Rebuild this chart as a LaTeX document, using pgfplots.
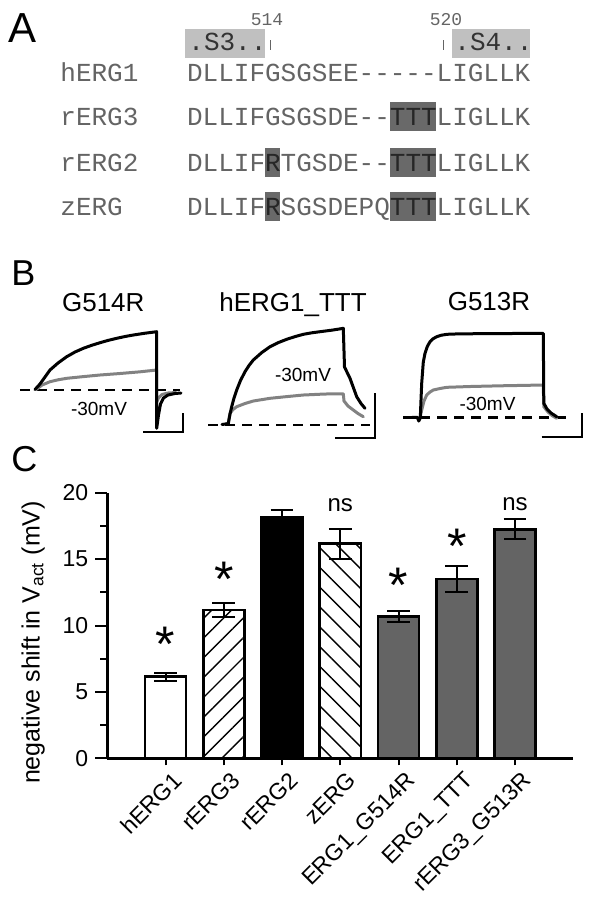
\documentclass[border=0pt]{standalone}
\usepackage{fontspec}
\setmainfont{Liberation Sans}
\setmonofont{Liberation Mono}
\usepackage{pgfplots}
\pgfplotsset{compat=1.18}
\usetikzlibrary{patterns.meta}

\definecolor{boxlight}{RGB}{192,192,192}
\definecolor{boxdark}{RGB}{105,105,105}
\definecolor{seqgray}{RGB}{100,100,100}
\definecolor{tracegray}{RGB}{130,130,130}
\definecolor{bardark}{RGB}{100,100,100}

\newcommand{\seqfont}{\ttfamily\fontsize{13}{13}\selectfont}
\newcommand{\hl}[1]{\textcolor{black!85}{#1}}

\pgfplotsset{
  bars/.style={ybar, bar width=0.706, bar shift=0pt, draw=black, line width=1.3pt,
    /pgfplots/error bars/y dir=both, /pgfplots/error bars/y explicit,
    /pgfplots/error bars/error bar style={line width=1pt, black},
    /pgfplots/error bars/error mark options={rotate=90, mark size=5.7pt, line width=1pt, black}},
  trace/.style={line width=1.5pt, line join=round, line cap=round},
}

\begin{document}
\begin{tikzpicture}[x=0.5pt, y=-0.5pt]
\useasboundingbox (0,0) rectangle (600,901);

% ---- panels A and B, drawn on a pixel canvas
\begin{axis}[at={(0pt,0pt)}, anchor=north west, x=0.5pt, y=0.5pt, y dir=reverse,
  xmin=0, xmax=600, ymin=0, ymax=450, hide axis, clip=false]

% panel letters
\node[anchor=base west, inner sep=0pt, font=\fontsize{21}{21}\selectfont] at (8,42) {A};
\node[anchor=base west, inner sep=0pt, font=\fontsize{18}{18}\selectfont] at (11,285) {B};
\node[anchor=base west, inner sep=0pt, font=\fontsize{18}{18}\selectfont] at (11,471.7) {C};

% A: segment boxes
\fill[boxlight] (185,29.3) rectangle (265,58.3);
\fill[boxlight] (451.7,29.3) rectangle (530,58.3);
\node[anchor=base west, inner sep=0pt, font=\seqfont, text=black!80] at (188,50) {.S3..};
\node[anchor=base west, inner sep=0pt, font=\seqfont, text=black!80] at (454,50) {.S4..};
\draw[seqgray, line width=0.5pt] (270,40) -- (270,50);
\draw[seqgray, line width=0.5pt] (443.3,40) -- (443.3,50);
\node[anchor=base, inner sep=0pt, font=\ttfamily\fontsize{9}{9}\selectfont, text=seqgray] at (267,25) {514};
\node[anchor=base, inner sep=0pt, font=\ttfamily\fontsize{9}{9}\selectfont, text=seqgray] at (446,25) {520};

% A: highlighted residues
\fill[boxdark] (389.5,102.2) rectangle (436.3,131.2);
\fill[boxdark] (389.5,147.5) rectangle (436.3,176.5);
\fill[boxdark] (389.5,191.5) rectangle (436.3,220.5);
\fill[boxdark] (264.7,147.5) rectangle (280.3,176.5);
\fill[boxdark] (264.7,191.5) rectangle (280.3,220.5);

% A: alignment rows
\node[anchor=base west, inner sep=0pt, font=\seqfont, text=seqgray] at (60,81.5) {hERG1};
\node[anchor=base west, inner sep=0pt, font=\seqfont, text=seqgray] at (60,125.7) {rERG3};
\node[anchor=base west, inner sep=0pt, font=\seqfont, text=seqgray] at (60,171) {rERG2};
\node[anchor=base west, inner sep=0pt, font=\seqfont, text=seqgray] at (60,215) {zERG};
\node[anchor=base west, inner sep=0pt, font=\seqfont, text=seqgray] at (186.7,81.5) {DLLIFGSGSEE-----LIGLLK};
\node[anchor=base west, inner sep=0pt, font=\seqfont, text=seqgray] at (186.7,125.7) {DLLIFGSGSDE--\hl{TTT}LIGLLK};
\node[anchor=base west, inner sep=0pt, font=\seqfont, text=seqgray] at (186.7,171) {DLLIF\hl{R}TGSDE--\hl{TTT}LIGLLK};
\node[anchor=base west, inner sep=0pt, font=\seqfont, text=seqgray] at (186.7,215) {DLLIF\hl{R}SGSDEPQ\hl{TTT}LIGLLK};

% B: titles
\node[anchor=base, inner sep=0pt, font=\fontsize{13}{13}\selectfont] at (103.3,311) {G514R};
\node[anchor=base, inner sep=0pt, font=\fontsize{13}{13}\selectfont] at (293,311) {hERG1\_TTT};
\node[anchor=base, inner sep=0pt, font=\fontsize{13}{13}\selectfont] at (489,310) {G513R};

% B: G514R traces
\addplot[black, line width=1.2pt, dash pattern=on 5pt off 3.5pt] coordinates {(20,390) (180,390)};
\addplot[tracegray, trace] coordinates {
  (36,389.5) (42,385) (50,381.7) (58,379.8) (66.7,378.3) (83.3,376.6) (100,375)
  (120,373.5) (140,371.8) (156.7,370) (156.7,402) (158.5,398) (162,394.5) (168,393) (176,392.5)};
\addplot[black, trace] coordinates {
  (35,389.5) (40,384) (45,377) (50,370) (58,363) (66.7,356.7) (75,352) (83.3,348.3)
  (91.7,345.3) (100,342.7) (108,340.4) (116.7,338.3) (125,336.5) (133.3,335) (145,333.2)
  (156.7,331.7) (156.7,428.3) (158.5,415) (160.5,404) (163.5,398) (168,395) (175,393.5) (181,393)};
\addplot[black, line width=0.9pt] coordinates {(143.3,431.7) (182.7,431.7) (182.7,412.7)};
\node[anchor=base, inner sep=0pt, font=\fontsize{9.5}{9.5}\selectfont] at (99,415) {-30mV};

% B: hERG1_TTT traces
\addplot[black, line width=1.2pt, dash pattern=on 5pt off 3.5pt] coordinates {(208.3,425) (370,425)};
\addplot[tracegray, trace] coordinates {
  (228.3,423) (230,413.3) (233,409.5) (236.7,406.7) (245,403.5) (253.3,401) (270,398.3)
  (286.7,396.6) (303.3,395) (325,394) (343.3,393.8) (344,401) (348,406) (353.3,410)
  (358,413.5) (363.3,416.7)};
\addplot[black, trace] coordinates {
  (222,424.5) (228.3,423.5) (230,414) (231.7,406.7) (234,398) (236.7,390) (240.5,380.5)
  (245,371.7) (249,365.5) (253.3,360) (261.7,352.6) (270,346.7) (278,342.7) (286.7,339.3)
  (295,336.6) (303.3,334.3) (311.7,332.8) (320,331.7) (333,330) (343.3,328.3) (344.5,367)
  (350,378.3) (356.7,396.7) (361,403.5) (365,408.3)};
\addplot[black, line width=0.9pt] coordinates {(335,438.3) (375,438.3) (375,393.3)};
\node[anchor=base, inner sep=0pt, font=\fontsize{9.5}{9.5}\selectfont] at (303,381.7) {-30mV};

% B: G513R traces
\addplot[black, line width=1.2pt, dash pattern=on 5pt off 3.5pt] coordinates {(403.3,417.3) (566.7,417.3)};
\addplot[tracegray, trace] coordinates {
  (420,418) (421.7,410) (424,401) (426.7,395) (430,392) (433.3,390) (440,388.5) (446.7,387.3)
  (470,386.5) (500,385.8) (543.3,385) (543.8,406.7) (548,412) (552,415.5) (556.7,418.3)};
\addplot[black, trace] coordinates {
  (412,417.3) (417.3,417.3) (418.8,421) (420.3,418) (421,400) (421.7,383.3) (423.3,362)
  (425,353.3) (427.3,346.5) (430,341.7) (433,338.8) (436.7,336.7) (441,335.3) (446.7,334.3)
  (460,333.8) (480,333.7) (510,333.5) (543.3,333.3) (543.8,403.3) (547,409) (551,413) (556.7,416.7)};
\addplot[black, line width=0.9pt] coordinates {(541.7,436.7) (581.7,436.7) (581.7,413.3)};
\node[anchor=base, inner sep=0pt, font=\fontsize{9.5}{9.5}\selectfont] at (487.5,410) {-30mV};
\end{axis}

% ---- panel C  (axis corner at pixel 107.3, 758.3)
\begin{axis}[at={(53.65pt,-379.15pt)}, anchor=south west, scale only axis,
  width=233pt, height=132.8pt,
  xmin=-1, xmax=7, ymin=0, ymax=20,
  axis x line*=bottom, axis y line*=left,
  axis line style={line width=1.3pt},
  every tick/.style={black, line width=1pt},
  tick align=outside,
  major tick length=6pt, minor tick length=3.5pt,
  xtick style={/pgfplots/major tick length=3.5pt},
  ytick={0,5,10,15,20}, minor ytick={2.5,7.5,12.5,17.5},
  xtick={0,1,2,3,4,5,6},
  xticklabels={hERG1, rERG3, rERG2, zERG, ERG1\_G514R, ERG1\_TTT, rERG3\_G513R},
  xticklabel style={xshift=3pt, yshift=1.5pt, rotate=45, anchor=north east, inner sep=1pt,
    font=\fontsize{11.5}{13}\selectfont},
  yticklabel style={font=\fontsize{11.5}{12}\selectfont},
  /pgf/number format/assume math mode=true,
  ylabel={negative shift in V\textsubscript{act} (mV)},
  every axis y label/.style={at={(axis description cs:-0.159,0.436)}, rotate=90, anchor=center,
    font=\fontsize{12.5}{14}\selectfont},
  clip=false,
]
\addplot[bars, fill=white] coordinates {(0,6.15) +- (0,0.3)};
\addplot[bars, pattern={Lines[angle=45, distance=7pt, line width=0.7pt]}, pattern color=black]
  coordinates {(1,11.17) +- (0,0.5)};
\addplot[bars, fill=black] coordinates {(2,18.12) +- (0,0.55)};
\addplot[bars, pattern={Lines[angle=-45, distance=7pt, line width=0.7pt]}, pattern color=black]
  coordinates {(3,16.16) +- (0,1.13)};
\addplot[bars, fill=bardark] coordinates {(4,10.66) +- (0,0.43)};
\addplot[bars, fill=bardark] coordinates {(5,13.5) +- (0,1.0)};
\addplot[bars, fill=bardark] coordinates {(6,17.24) +- (0,0.76)};

\node[anchor=north, inner sep=0pt, font=\fontsize{25}{25}\selectfont] at (axis cs:0,9.91) {*};
\node[anchor=north, inner sep=0pt, font=\fontsize{25}{25}\selectfont] at (axis cs:1,14.8) {*};
\node[anchor=north, inner sep=0pt, font=\fontsize{25}{25}\selectfont] at (axis cs:4,14.35) {*};
\node[anchor=north, inner sep=0pt, font=\fontsize{25}{25}\selectfont] at (axis cs:5,17.3) {*};
\node[anchor=base, inner sep=0pt, font=\fontsize{12}{12}\selectfont] at (axis cs:3,18.6) {ns};
\node[anchor=base, inner sep=0pt, font=\fontsize{12}{12}\selectfont] at (axis cs:6,18.65) {ns};
\end{axis}
\end{tikzpicture}
\end{document}
